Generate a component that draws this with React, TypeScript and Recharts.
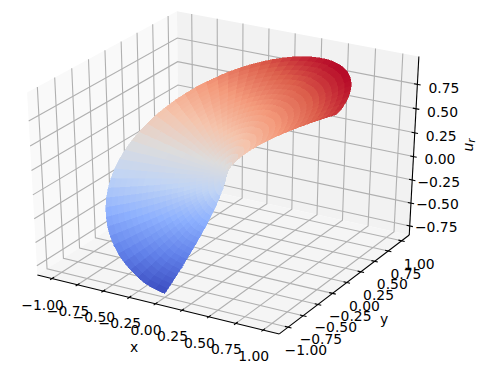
import { ScatterChart, Scatter, XAxis, YAxis } from 'recharts';

// polar sectors of the surface, angle runs from (0,-1) through (-1,0), (0,1) to (1,0)
const angleDeg = [
  0, 5.4, 10.8, 16.2, 21.6, 27, 32.4, 37.8, 43.2, 48.6, 54, 59.4, 64.8, 70.2, 75.6, 81, 86.4,
  91.8, 97.2, 102.6, 108, 113.4, 118.8, 124.2, 129.6, 135, 140.4, 145.8, 151.2, 156.6, 162, 167.4,
  172.8, 178.2, 183.6, 189, 194.4, 199.8, 205.2, 210.6, 216, 221.4, 226.8, 232.2, 237.6, 243, 248.4,
  253.8, 259.2, 264.6, 270,
];
const rimU = [
  -0.81, -0.79, -0.769, -0.731, -0.689, -0.646, -0.6, -0.551, -0.5, -0.447, -0.392, -0.336, -0.279,
  -0.22, -0.161, -0.101, -0.04, 0.02, 0.081, 0.141, 0.2, 0.26, 0.317, 0.374, 0.429, 0.483, 0.534,
  0.583, 0.631, 0.675, 0.717, 0.756, 0.792, 0.825, 0.855, 0.882, 0.904, 0.923, 0.94, 0.951, 0.96,
  0.964, 0.965, 0.961, 0.955, 0.944, 0.929, 0.911, 0.89, 0.865, 0.85,
];
const radii = [0, 0.02, 0.05, 0.1, 0.15, 0.2, 0.25, 0.3, 0.35, 0.4, 0.45, 0.5, 0.55, 0.6, 0.65, 0.7, 0.75, 0.8, 0.85, 0.9, 0.95, 1];
const radialShare = [0, 0.074, 0.136, 0.215, 0.282, 0.342, 0.397, 0.448, 0.497, 0.543, 0.587, 0.63, 0.671, 0.711, 0.75, 0.788, 0.825, 0.862, 0.897, 0.932, 0.966, 1];

const xTicks = [-1, -0.75, -0.5, -0.25, 0, 0.25, 0.5, 0.75, 1];
const yTicks = [-1, -0.75, -0.5, -0.25, 0, 0.25, 0.5, 0.75, 1];
const zTicks = [-0.75, -0.5, -0.25, 0, 0.25, 0.5, 0.75];

const coolwarm = [
  [59, 76, 192], [98, 130, 234], [141, 176, 254], [192, 212, 245], [221, 220, 220],
  [245, 196, 172], [244, 154, 123], [220, 94, 75], [180, 4, 38],
];

const W = 480;
const H = 374;
const XY_LIM = 1.1;
const Z_MID = 0.09;
const Z_HALF = 0.9025;
const PANE_XY = 1.1458;
const Z_LOW = -0.85;
const Z_HIGH = 1.03;
const TICK = 0.03;

// matplotlib's default 3d view, elev 30, azim -60, dist 10
function project(x: number, y: number, z: number) {
  const dx = x / (2 * XY_LIM);
  const dy = y / (2 * XY_LIM);
  const dz = (z - Z_MID) / (2 * Z_HALF);
  const w = 10 - (0.433 * dx - 0.75 * dy + 0.5 * dz);
  return {
    px: (0.866 * dx + 0.5 * dy) / w,
    py: (-0.25 * dx + 0.433 * dy + 0.866 * dz) / w,
    depth: w,
  };
}

function faceColor(u: number) {
  const t = Math.min(1, Math.max(0, (u + 0.81) / (0.965 + 0.81))) * (coolwarm.length - 1);
  const i = Math.min(coolwarm.length - 2, Math.floor(t));
  const c = coolwarm[i].map((v, k) => Math.round(v + (coolwarm[i + 1][k] - v) * (t - i)));
  return `rgb(${c[0]},${c[1]},${c[2]})`;
}

function surfacePoint(i: number, j: number) {
  const a = (angleDeg[j] * Math.PI) / 180;
  return project(-radii[i] * Math.sin(a), -radii[i] * Math.cos(a), rimU[j] * radialShare[i]);
}

const facets: { points: ReturnType<typeof project>[]; color: string; depth: number }[] = [];
for (let i = 0; i < radii.length - 1; i++) {
  for (let j = 0; j < angleDeg.length - 1; j++) {
    const points = [surfacePoint(i, j), surfacePoint(i + 1, j), surfacePoint(i + 1, j + 1), surfacePoint(i, j + 1), surfacePoint(i, j)];
    const u = ((rimU[j] + rimU[j + 1]) / 2) * ((radialShare[i] + radialShare[i + 1]) / 2);
    const depth = points.slice(0, 4).reduce((s, p) => s + p.depth, 0) / 4;
    facets.push({ points, color: faceColor(u), depth });
  }
}
facets.sort((a, b) => b.depth - a.depth);

const P = PANE_XY;
const panes = [
  { fill: '#f9f9f9', points: [project(-P, -P, Z_LOW), project(-P, P, Z_LOW), project(-P, P, Z_HIGH), project(-P, -P, Z_HIGH)] },
  { fill: '#f2f2f2', points: [project(-P, P, Z_LOW), project(P, P, Z_LOW), project(P, P, Z_HIGH), project(-P, P, Z_HIGH)] },
  { fill: '#f5f5f5', points: [project(-P, -P, Z_LOW), project(P, -P, Z_LOW), project(P, P, Z_LOW), project(-P, P, Z_LOW)] },
];

const gridLines = [
  ...xTicks.map((t) => [project(t, -P, Z_LOW), project(t, P, Z_LOW), project(t, P, Z_HIGH)]),
  ...yTicks.map((t) => [project(P, t, Z_LOW), project(-P, t, Z_LOW), project(-P, t, Z_HIGH)]),
  ...zTicks.map((t) => [project(-P, -P, t), project(-P, P, t), project(P, P, t)]),
];

const axisLines = [
  [project(-P, -P, Z_LOW), project(P, -P, Z_LOW)],
  [project(P, -P, Z_LOW), project(P, P, Z_LOW)],
  [project(P, P, Z_LOW), project(P, P, Z_HIGH)],
  ...xTicks.map((t) => [project(t, -P - TICK, Z_LOW), project(t, -P + TICK, Z_LOW)]),
  ...yTicks.map((t) => [project(P - TICK, t, Z_LOW), project(P + TICK, t, Z_LOW)]),
  ...zTicks.map((t) => [project(P - TICK, P, t), project(P + TICK, P, t)]),
];

const fmt = (v: number) => (v < 0 ? '\u2212' : '') + Math.abs(v).toFixed(2);
const xLabels = xTicks.map((t) => ({ ...project(t, -P, Z_LOW), label: fmt(t), dx: -9.5, dy: 26 }));
const yLabels = yTicks.map((t) => ({ ...project(P, t, Z_LOW), label: fmt(t), dx: 17.7, dy: 23 }));
const zLabels = zTicks.map((t) => ({ ...project(P, P, t), label: fmt(t), dx: 26.5, dy: 2.4 + 2.2 * t }));

const noPoint = () => null;
const FONT = '"DejaVu Sans", sans-serif';

const tickLabel = (p: any) => (
  <text
    x={p.cx + p.payload.dx}
    y={p.cy + p.payload.dy}
    textAnchor="middle"
    dominantBaseline="central"
    fontSize={13.9}
    fontFamily={FONT}
    fill="#000"
  >
    {p.payload.label}
  </text>
);

export default function App() {
  return (
    <div style={{ position: 'absolute', left: 0, top: 0, width: W, height: H }}>
      <ScatterChart width={W} height={H} margin={{ top: 0, right: 0, bottom: 0, left: 0 }}>
        <XAxis hide type="number" dataKey="px" domain={[-0.08441, 0.09463]} allowDataOverflow />
        <YAxis hide type="number" dataKey="py" domain={[-0.1037, 0.08348]} allowDataOverflow />

        {/* walls and floor */}
        {panes.map((p, i) => (
          <Scatter
            key={`pane${i}`}
            data={[...p.points, p.points[0]]}
            line={{ fill: p.fill, stroke: 'none' }}
            shape={noPoint}
            isAnimationActive={false}
          />
        ))}
        {gridLines.map((pts, i) => (
          <Scatter
            key={`grid${i}`}
            data={pts}
            line={{ fill: 'none', stroke: '#b0b0b0', strokeWidth: 1.1 }}
            shape={noPoint}
            isAnimationActive={false}
          />
        ))}
        {axisLines.map((pts, i) => (
          <Scatter
            key={`axis${i}`}
            data={pts}
            line={{ fill: 'none', stroke: '#000', strokeWidth: 1.1 }}
            shape={noPoint}
            isAnimationActive={false}
          />
        ))}

        {/* surface, far facets first */}
        {facets.map((f, i) => (
          <Scatter
            key={`facet${i}`}
            data={f.points}
            line={{ fill: f.color, stroke: f.color, strokeWidth: 0.6, shapeRendering: 'crispEdges' }}
            shape={noPoint}
            isAnimationActive={false}
          />
        ))}

        <Scatter data={xLabels} shape={tickLabel} isAnimationActive={false} />
        <Scatter data={yLabels} shape={tickLabel} isAnimationActive={false} />
        <Scatter data={zLabels} shape={tickLabel} isAnimationActive={false} />

        <text x={134} y={346.5} textAnchor="middle" dominantBaseline="central" fontSize={13.9} fontFamily={FONT}>x</text>
        <text x={384} y={319} textAnchor="middle" dominantBaseline="central" fontSize={13.9} fontFamily={FONT}>y</text>
        <text
          transform="translate(468,145) rotate(-90)"
          textAnchor="middle"
          dominantBaseline="central"
          fontSize={13.9}
          fontFamily={FONT}
        >
          <tspan fontStyle="italic">u</tspan>
          <tspan fontStyle="italic" fontSize={9.7} dy={3}>r</tspan>
        </text>
      </ScatterChart>
    </div>
  );
}
